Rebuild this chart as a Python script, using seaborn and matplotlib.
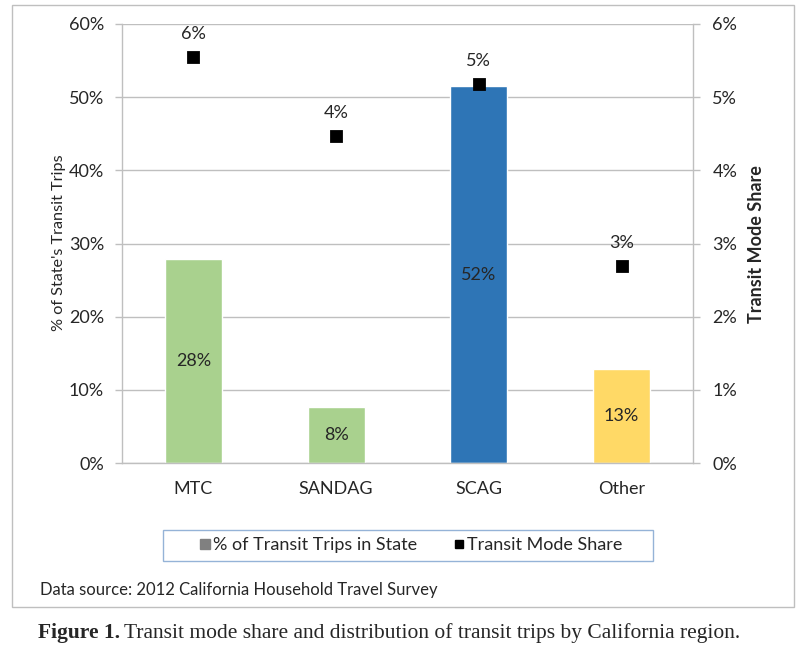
import pandas as pd
import numpy as np
import matplotlib
matplotlib.use('Agg')
import matplotlib.pyplot as plt
import seaborn as sns
from matplotlib.patches import Rectangle
from matplotlib.lines import Line2D
from matplotlib.ticker import FuncFormatter, MultipleLocator

# Dados do gráfico
regions = ['MTC', 'SANDAG', 'SCAG', 'Other']
trip_share = [27.9, 7.6, 51.5, 12.8]      # % of State's Transit Trips
mode_share = [5.55, 4.47, 5.18, 2.69]     # Transit Mode Share (%)
trip_labels = ['28%', '8%', '52%', '13%']
mode_labels = ['6%', '4%', '5%', '3%']
bar_colors = ['#A9D18E', '#A9D18E', '#2E75B6', '#FFD966']

df = pd.DataFrame({'region': regions, 'trips': trip_share, 'mode': mode_share})

sns.set_style('white')
plt.rcParams['font.family'] = ['Lato', 'DejaVu Sans']
grid_col = '#BFBFBF'
fs = 13

fig = plt.figure(figsize=(8.06, 6.51), dpi=100)
W, H = 806, 651
ax = fig.add_axes([122 / W, 1 - 463 / H, (693 - 122) / W, (463 - 24) / H])

# Barras - % das viagens de transporte público
sns.barplot(data=df, x='region', y='trips', hue='region', palette=bar_colors,
            width=0.4, saturation=1, legend=False, ax=ax)
for cont, lab in zip(ax.containers, trip_labels):
    ax.bar_label(cont, labels=[lab], label_type='center', fontsize=fs)

ax.set_ylim(0, 60)
ax.yaxis.set_major_locator(MultipleLocator(10))
ax.yaxis.set_major_formatter(FuncFormatter(lambda v, _: f'{v:.0f}%'))
ax.grid(axis='y', color=grid_col, lw=1)
ax.set_axisbelow(True)
ax.set_xlabel('')
ax.set_ylabel('')
ax.tick_params(axis='y', length=5, width=1, color=grid_col, pad=8, labelsize=fs)
ax.tick_params(axis='x', length=0, pad=13, labelsize=fs)
for s in ['top', 'right']:
    ax.spines[s].set_visible(False)
for s in ['left', 'bottom']:
    ax.spines[s].set_color(grid_col)
    ax.spines[s].set_linewidth(1)

# Pontos - participação modal
ax2 = ax.twinx()
sns.pointplot(data=df, x='region', y='mode', color='black', marker='s',
              linestyle='none', markersize=6.5, errorbar=None, ax=ax2)
for i, (v, lab) in enumerate(zip(mode_share, mode_labels)):
    ax2.annotate(lab, (i, v), xytext=(0, 16.5), textcoords='offset points',
                 ha='center', va='center', fontsize=fs)
ax2.set_ylim(0, 6)
ax2.yaxis.set_major_locator(MultipleLocator(1))
ax2.yaxis.set_major_formatter(FuncFormatter(lambda v, _: f'{v:.0f}%'))
ax2.set_ylabel('')
ax2.set_xlabel('')
ax2.grid(False)
ax2.tick_params(axis='y', length=5, width=1, color=grid_col, pad=9, labelsize=fs,
                right=True, labelright=True)
for s in ['top', 'left', 'bottom']:
    ax2.spines[s].set_visible(False)
ax2.spines['right'].set_color(grid_col)
ax2.spines['right'].set_linewidth(1)
ax.set_xlim(-0.5, 3.5)

# Títulos dos eixos
fig.text(59 / W, 1 - 243 / H, "% of State's Transit Trips", rotation=90,
         ha='center', va='center', fontsize=11.7)
fig.text(757 / W, 1 - 244 / H, 'Transit Mode Share', rotation=90,
         ha='center', va='center', fontsize=13, fontweight='bold')

# Legenda
handles = [Line2D([], [], marker='s', color='#808080', linestyle='none', markersize=7),
           Line2D([], [], marker='s', color='black', linestyle='none', markersize=5.5)]
fig.legend(handles, ['% of Transit Trips in State', 'Transit Mode Share'],
           loc='center', bbox_to_anchor=(411 / W, 1 - 545 / H), ncol=2,
           frameon=False, handlelength=0.6, handletextpad=0.15,
           columnspacing=2.0, fontsize=fs)
fig.add_artist(Rectangle((163 / W, 1 - 561 / H), 490 / W, 31 / H,
                         transform=fig.transFigure, fill=False,
                         edgecolor='#95B3D7', lw=1))

# Moldura externa e fonte
fig.add_artist(Rectangle((12 / W, 1 - 607 / H), 782 / W, 602 / H,
                         transform=fig.transFigure, fill=False,
                         edgecolor=grid_col, lw=1))
fig.text(40 / W, 1 - 590 / H, 'Data source: 2012 California Household Travel Survey',
         ha='left', va='center', fontsize=12)

# Legenda da figura
t1 = fig.text(38 / W, 1 - 633 / H, 'Figure 1.', ha='left', va='center',
              fontsize=15.5, fontweight='bold', family='Liberation Serif')
fig.canvas.draw()
bb = t1.get_window_extent()
fig.text((bb.x1 + 4) / W, 1 - 633 / H,
         'Transit mode share and distribution of transit trips by California region.',
         ha='left', va='center', fontsize=15.5, family='Liberation Serif')

fig.savefig('out.png', dpi=100)
